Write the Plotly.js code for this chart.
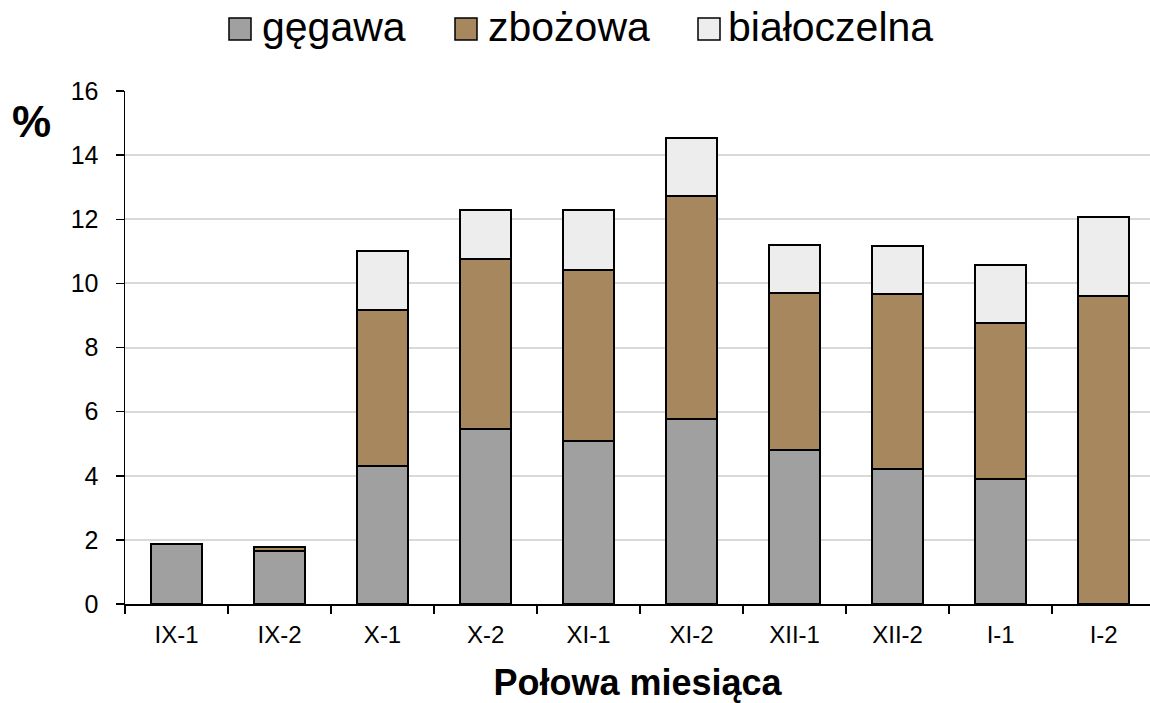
<!DOCTYPE html>
<html>
<head>
<meta charset="utf-8">
<script src="https://cdn.plot.ly/plotly-3.0.1.min.js"></script>
<style>html,body{margin:0;padding:0;background:#fff;overflow:hidden}#chart{width:1150px;height:703px}</style>
</head>
<body>
<div id="chart"></div>
<script>
const categories = ["IX-1","IX-2","X-1","X-2","XI-1","XI-2","XII-1","XII-2","I-1","I-2"];
const gegawa = [1.87, 1.64, 4.30, 5.45, 5.08, 5.76, 4.79, 4.22, 3.91, 0];
const zbozowa = [0, 0.13, 4.88, 5.30, 5.35, 6.96, 4.90, 5.44, 4.85, 9.60];
const bialoczelna = [0, 0, 1.82, 1.55, 1.85, 1.82, 1.50, 1.50, 1.82, 2.48];
const seriesNames = ["gęgawa", "zbożowa", "białoczelna"];
const seriesColors = ["#A0A0A0", "#A7875E", "#EDEDED"];
const yTicks = [0,2,4,6,8,10,12,14,16];

const font = "Liberation Sans, Arial, sans-serif";
const W = 1150, H = 703, M = {l: 125, r: 0, t: 91, b: 99};
const pw = W - M.l - M.r, ph = H - M.t - M.b;
const px2x = p => (p - M.l) / pw;
const px2y = p => (H - M.b - p) / ph;

const data = [gegawa, zbozowa, bialoczelna].map((vals, i) => ({
  type: "bar",
  x: categories,
  y: vals,
  name: seriesNames[i],
  marker: {color: seriesColors[i], line: {color: "#000", width: 2}},
  hoverinfo: "skip",
  showlegend: false
}));

// custom legend (larger symbols, as in the reference)
const legendSymbolLeft = [229, 455, 698];
const legendTextLeft = [260, 486, 726];
const shapes = [], annotations = [];
seriesNames.forEach((n, i) => {
  shapes.push({type: "rect", xref: "paper", yref: "paper",
    x0: px2x(legendSymbolLeft[i]), x1: px2x(legendSymbolLeft[i] + 22),
    y0: px2y(40), y1: px2y(18),
    fillcolor: seriesColors[i], line: {color: "#000", width: 1.5}});
  annotations.push({text: n, xref: "paper", yref: "paper",
    x: px2x(legendTextLeft[i]), y: px2y(27), xanchor: "left", yanchor: "middle",
    showarrow: false, font: {size: 41, family: font, color: "#000"}});
});
annotations.push({
  text: "<b>%</b>", xref: "paper", yref: "paper", x: px2x(31), y: px2y(121),
  xanchor: "center", yanchor: "middle", showarrow: false,
  font: {size: 44, family: font, color: "#000"}
});

const layout = {
  width: W, height: H,
  barmode: "stack",
  bargap: 0.5,
  paper_bgcolor: "#fff", plot_bgcolor: "#fff",
  margin: M,
  font: {family: font, color: "#000"},
  showlegend: false,
  xaxis: {
    type: "category", range: [-0.5, 9.45],
    showline: true, linecolor: "#000", linewidth: 2,
    ticks: "outside", tickson: "boundaries", ticklen: 8, tickwidth: 1.5, tickcolor: "#000",
    tickfont: {size: 24, family: font}, showgrid: false, zeroline: false,
    ticklabelstandoff: 8,
    title: {text: "<b>Połowa miesiąca</b>", font: {size: 36, family: font}, standoff: 26}
  },
  yaxis: {
    range: [0, 16], tickvals: yTicks, ticktext: yTicks.map(String),
    showline: true, linecolor: "#000", linewidth: 1.5,
    ticks: "outside", ticklen: 8, tickwidth: 1.5, tickcolor: "#000",
    tickfont: {size: 25, family: font}, ticklabelstandoff: 12,
    showgrid: true, gridcolor: "#D9D9D9", gridwidth: 2, zeroline: false
  },
  shapes: shapes,
  annotations: annotations
};

Plotly.newPlot("chart", data, layout, {staticPlot: true, displayModeBar: false});
</script>
</body>
</html>
